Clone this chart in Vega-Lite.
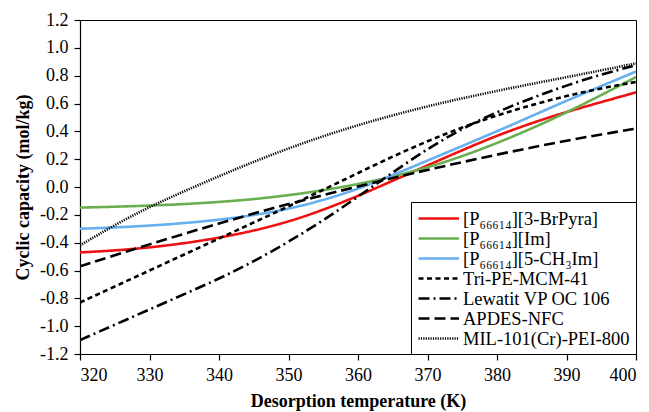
{
  "$schema": "https://vega.github.io/schema/vega-lite/v6.json",
  "width": 556,
  "height": 334,
  "autosize": {"type": "none"},
  "padding": {"left": 80, "top": 20, "right": 13, "bottom": 58},
  "background": "white",
  "config": {
    "font": "Liberation Serif",
    "view": {"stroke": "black", "strokeWidth": 1},
    "axis": {
      "labelColor": "black",
      "titleColor": "black",
      "domainColor": "black",
      "tickColor": "black",
      "grid": false,
      "labelFontSize": 18,
      "titleFontSize": 18,
      "titleFontWeight": "bold",
      "tickSize": 6,
      "domainWidth": 1.2,
      "tickWidth": 1.2
    }
  },
  "data": {
    "values": [
      {"s": "[P₆₆₆₁₄][3-BrPyra]", "T": 320, "v": -0.47},
      {"s": "[P₆₆₆₁₄][3-BrPyra]", "T": 325, "v": -0.457},
      {"s": "[P₆₆₆₁₄][3-BrPyra]", "T": 330, "v": -0.435},
      {"s": "[P₆₆₆₁₄][3-BrPyra]", "T": 335, "v": -0.405},
      {"s": "[P₆₆₆₁₄][3-BrPyra]", "T": 340, "v": -0.365},
      {"s": "[P₆₆₆₁₄][3-BrPyra]", "T": 345, "v": -0.315},
      {"s": "[P₆₆₆₁₄][3-BrPyra]", "T": 350, "v": -0.25},
      {"s": "[P₆₆₆₁₄][3-BrPyra]", "T": 355, "v": -0.165},
      {"s": "[P₆₆₆₁₄][3-BrPyra]", "T": 360, "v": -0.065},
      {"s": "[P₆₆₆₁₄][3-BrPyra]", "T": 365, "v": 0.045},
      {"s": "[P₆₆₆₁₄][3-BrPyra]", "T": 370, "v": 0.155},
      {"s": "[P₆₆₆₁₄][3-BrPyra]", "T": 375, "v": 0.265},
      {"s": "[P₆₆₆₁₄][3-BrPyra]", "T": 380, "v": 0.37},
      {"s": "[P₆₆₆₁₄][3-BrPyra]", "T": 385, "v": 0.46},
      {"s": "[P₆₆₆₁₄][3-BrPyra]", "T": 390, "v": 0.54},
      {"s": "[P₆₆₆₁₄][3-BrPyra]", "T": 395, "v": 0.61},
      {"s": "[P₆₆₆₁₄][3-BrPyra]", "T": 400, "v": 0.68},

      {"s": "[P₆₆₆₁₄][Im]", "T": 320, "v": -0.148},
      {"s": "[P₆₆₆₁₄][Im]", "T": 325, "v": -0.142},
      {"s": "[P₆₆₆₁₄][Im]", "T": 330, "v": -0.134},
      {"s": "[P₆₆₆₁₄][Im]", "T": 335, "v": -0.123},
      {"s": "[P₆₆₆₁₄][Im]", "T": 340, "v": -0.108},
      {"s": "[P₆₆₆₁₄][Im]", "T": 345, "v": -0.088},
      {"s": "[P₆₆₆₁₄][Im]", "T": 350, "v": -0.06},
      {"s": "[P₆₆₆₁₄][Im]", "T": 355, "v": -0.024},
      {"s": "[P₆₆₆₁₄][Im]", "T": 360, "v": 0.02},
      {"s": "[P₆₆₆₁₄][Im]", "T": 365, "v": 0.074},
      {"s": "[P₆₆₆₁₄][Im]", "T": 370, "v": 0.14},
      {"s": "[P₆₆₆₁₄][Im]", "T": 375, "v": 0.22},
      {"s": "[P₆₆₆₁₄][Im]", "T": 380, "v": 0.315},
      {"s": "[P₆₆₆₁₄][Im]", "T": 385, "v": 0.42},
      {"s": "[P₆₆₆₁₄][Im]", "T": 390, "v": 0.535},
      {"s": "[P₆₆₆₁₄][Im]", "T": 395, "v": 0.66},
      {"s": "[P₆₆₆₁₄][Im]", "T": 400, "v": 0.79},

      {"s": "[P₆₆₆₁₄][5-CH₃Im]", "T": 320, "v": -0.3},
      {"s": "[P₆₆₆₁₄][5-CH₃Im]", "T": 325, "v": -0.291},
      {"s": "[P₆₆₆₁₄][5-CH₃Im]", "T": 330, "v": -0.278},
      {"s": "[P₆₆₆₁₄][5-CH₃Im]", "T": 335, "v": -0.26},
      {"s": "[P₆₆₆₁₄][5-CH₃Im]", "T": 340, "v": -0.236},
      {"s": "[P₆₆₆₁₄][5-CH₃Im]", "T": 345, "v": -0.203},
      {"s": "[P₆₆₆₁₄][5-CH₃Im]", "T": 350, "v": -0.158},
      {"s": "[P₆₆₆₁₄][5-CH₃Im]", "T": 355, "v": -0.095},
      {"s": "[P₆₆₆₁₄][5-CH₃Im]", "T": 360, "v": -0.015},
      {"s": "[P₆₆₆₁₄][5-CH₃Im]", "T": 365, "v": 0.085},
      {"s": "[P₆₆₆₁₄][5-CH₃Im]", "T": 370, "v": 0.19},
      {"s": "[P₆₆₆₁₄][5-CH₃Im]", "T": 375, "v": 0.295},
      {"s": "[P₆₆₆₁₄][5-CH₃Im]", "T": 380, "v": 0.4},
      {"s": "[P₆₆₆₁₄][5-CH₃Im]", "T": 385, "v": 0.51},
      {"s": "[P₆₆₆₁₄][5-CH₃Im]", "T": 390, "v": 0.62},
      {"s": "[P₆₆₆₁₄][5-CH₃Im]", "T": 395, "v": 0.725},
      {"s": "[P₆₆₆₁₄][5-CH₃Im]", "T": 400, "v": 0.83},

      {"s": "Tri-PE-MCM-41", "T": 320, "v": -0.83},
      {"s": "Tri-PE-MCM-41", "T": 325, "v": -0.715},
      {"s": "Tri-PE-MCM-41", "T": 330, "v": -0.6},
      {"s": "Tri-PE-MCM-41", "T": 335, "v": -0.485},
      {"s": "Tri-PE-MCM-41", "T": 340, "v": -0.37},
      {"s": "Tri-PE-MCM-41", "T": 345, "v": -0.255},
      {"s": "Tri-PE-MCM-41", "T": 350, "v": -0.14},
      {"s": "Tri-PE-MCM-41", "T": 355, "v": -0.02},
      {"s": "Tri-PE-MCM-41", "T": 360, "v": 0.1},
      {"s": "Tri-PE-MCM-41", "T": 365, "v": 0.22},
      {"s": "Tri-PE-MCM-41", "T": 370, "v": 0.33},
      {"s": "Tri-PE-MCM-41", "T": 375, "v": 0.43},
      {"s": "Tri-PE-MCM-41", "T": 380, "v": 0.515},
      {"s": "Tri-PE-MCM-41", "T": 385, "v": 0.59},
      {"s": "Tri-PE-MCM-41", "T": 390, "v": 0.655},
      {"s": "Tri-PE-MCM-41", "T": 395, "v": 0.71},
      {"s": "Tri-PE-MCM-41", "T": 400, "v": 0.755},

      {"s": "Lewatit VP OC 106", "T": 320, "v": -1.1},
      {"s": "Lewatit VP OC 106", "T": 325, "v": -0.99},
      {"s": "Lewatit VP OC 106", "T": 330, "v": -0.88},
      {"s": "Lewatit VP OC 106", "T": 335, "v": -0.77},
      {"s": "Lewatit VP OC 106", "T": 340, "v": -0.66},
      {"s": "Lewatit VP OC 106", "T": 345, "v": -0.535},
      {"s": "Lewatit VP OC 106", "T": 350, "v": -0.395},
      {"s": "Lewatit VP OC 106", "T": 355, "v": -0.24},
      {"s": "Lewatit VP OC 106", "T": 360, "v": -0.07},
      {"s": "Lewatit VP OC 106", "T": 365, "v": 0.105},
      {"s": "Lewatit VP OC 106", "T": 370, "v": 0.275},
      {"s": "Lewatit VP OC 106", "T": 375, "v": 0.42},
      {"s": "Lewatit VP OC 106", "T": 380, "v": 0.54},
      {"s": "Lewatit VP OC 106", "T": 385, "v": 0.64},
      {"s": "Lewatit VP OC 106", "T": 390, "v": 0.73},
      {"s": "Lewatit VP OC 106", "T": 395, "v": 0.81},
      {"s": "Lewatit VP OC 106", "T": 400, "v": 0.875},

      {"s": "APDES-NFC", "T": 320, "v": -0.57},
      {"s": "APDES-NFC", "T": 325, "v": -0.49},
      {"s": "APDES-NFC", "T": 330, "v": -0.412},
      {"s": "APDES-NFC", "T": 335, "v": -0.336},
      {"s": "APDES-NFC", "T": 340, "v": -0.262},
      {"s": "APDES-NFC", "T": 345, "v": -0.19},
      {"s": "APDES-NFC", "T": 350, "v": -0.122},
      {"s": "APDES-NFC", "T": 355, "v": -0.058},
      {"s": "APDES-NFC", "T": 360, "v": 0.004},
      {"s": "APDES-NFC", "T": 365, "v": 0.065},
      {"s": "APDES-NFC", "T": 370, "v": 0.123},
      {"s": "APDES-NFC", "T": 375, "v": 0.179},
      {"s": "APDES-NFC", "T": 380, "v": 0.233},
      {"s": "APDES-NFC", "T": 385, "v": 0.284},
      {"s": "APDES-NFC", "T": 390, "v": 0.333},
      {"s": "APDES-NFC", "T": 395, "v": 0.378},
      {"s": "APDES-NFC", "T": 400, "v": 0.42},

      {"s": "MIL-101(Cr)-PEI-800", "T": 320, "v": -0.42},
      {"s": "MIL-101(Cr)-PEI-800", "T": 325, "v": -0.272},
      {"s": "MIL-101(Cr)-PEI-800", "T": 330, "v": -0.142},
      {"s": "MIL-101(Cr)-PEI-800", "T": 335, "v": -0.03},
      {"s": "MIL-101(Cr)-PEI-800", "T": 340, "v": 0.078},
      {"s": "MIL-101(Cr)-PEI-800", "T": 345, "v": 0.182},
      {"s": "MIL-101(Cr)-PEI-800", "T": 350, "v": 0.278},
      {"s": "MIL-101(Cr)-PEI-800", "T": 355, "v": 0.366},
      {"s": "MIL-101(Cr)-PEI-800", "T": 360, "v": 0.445},
      {"s": "MIL-101(Cr)-PEI-800", "T": 365, "v": 0.516},
      {"s": "MIL-101(Cr)-PEI-800", "T": 370, "v": 0.58},
      {"s": "MIL-101(Cr)-PEI-800", "T": 375, "v": 0.638},
      {"s": "MIL-101(Cr)-PEI-800", "T": 380, "v": 0.691},
      {"s": "MIL-101(Cr)-PEI-800", "T": 385, "v": 0.741},
      {"s": "MIL-101(Cr)-PEI-800", "T": 390, "v": 0.789},
      {"s": "MIL-101(Cr)-PEI-800", "T": 395, "v": 0.838},
      {"s": "MIL-101(Cr)-PEI-800", "T": 400, "v": 0.888}
    ]
  },
  "mark": {"type": "line", "interpolate": "basis", "clip": true},
  "encoding": {
    "x": {
      "field": "T",
      "type": "quantitative",
      "scale": {"domain": [320, 400], "nice": false, "zero": false},
      "axis": {
        "title": "Desorption temperature (K)",
        "titleFont": "Liberation Serif",
        "labelFont": "Liberation Serif",
        "values": [320, 330, 340, 350, 360, 370, 380, 390, 400],
        "labelPadding": 6,
        "titlePadding": 8
      }
    },
    "y": {
      "field": "v",
      "type": "quantitative",
      "scale": {"domain": [-1.2, 1.2], "nice": false, "zero": false},
      "axis": {
        "title": "Cyclic capacity (mol/kg)",
        "titleFont": "Liberation Serif",
        "labelFont": "Liberation Serif",
        "values": [-1.2, -1.0, -0.8, -0.6, -0.4, -0.2, 0, 0.2, 0.4, 0.6, 0.8, 1.0, 1.2],
        "labelExpr": "replace(format(datum.value, '.1f'), '−', '-')",
        "labelPadding": 6,
        "titlePadding": 7
      }
    },
    "color": {
      "field": "s",
      "type": "nominal",
      "scale": {
        "domain": ["[P₆₆₆₁₄][3-BrPyra]", "[P₆₆₆₁₄][Im]", "[P₆₆₆₁₄][5-CH₃Im]", "Tri-PE-MCM-41", "Lewatit VP OC 106", "APDES-NFC", "MIL-101(Cr)-PEI-800"],
        "range": ["#ee1111", "#6aaf4f", "#66b0ef", "black", "black", "black", "black"]
      },
      "legend": {
        "title": null,
        "orient": "bottom-right",
        "offset": 0,
        "strokeColor": "black",
        "fillColor": "white",
        "padding": 6,
        "symbolType": "M-1,0H3.5",
        "symbolSize": 324,
        "symbolStrokeWidth": 2,
        "labelFont": "Liberation Serif",
        "labelFontSize": 18.5,
        "labelColor": "black",
        "labelLimit": 300,
        "rowPadding": 0,
        "labelOffset": 25
      }
    },
    "strokeDash": {
      "field": "s",
      "type": "nominal",
      "scale": {
        "domain": ["[P₆₆₆₁₄][3-BrPyra]", "[P₆₆₆₁₄][Im]", "[P₆₆₆₁₄][5-CH₃Im]", "Tri-PE-MCM-41", "Lewatit VP OC 106", "APDES-NFC", "MIL-101(Cr)-PEI-800"],
        "range": [[1, 0], [1, 0], [1, 0], [5, 3.5], [11, 4, 2, 4], [11, 5], [1.2, 1.2]]
      }
    },
    "strokeWidth": {
      "field": "s",
      "type": "nominal",
      "scale": {
        "domain": ["[P₆₆₆₁₄][3-BrPyra]", "[P₆₆₆₁₄][Im]", "[P₆₆₆₁₄][5-CH₃Im]", "Tri-PE-MCM-41", "Lewatit VP OC 106", "APDES-NFC", "MIL-101(Cr)-PEI-800"],
        "range": [2.6, 2.6, 2.6, 1.6, 1.6, 1.6, 1.1]
      }
    }
  }
}
